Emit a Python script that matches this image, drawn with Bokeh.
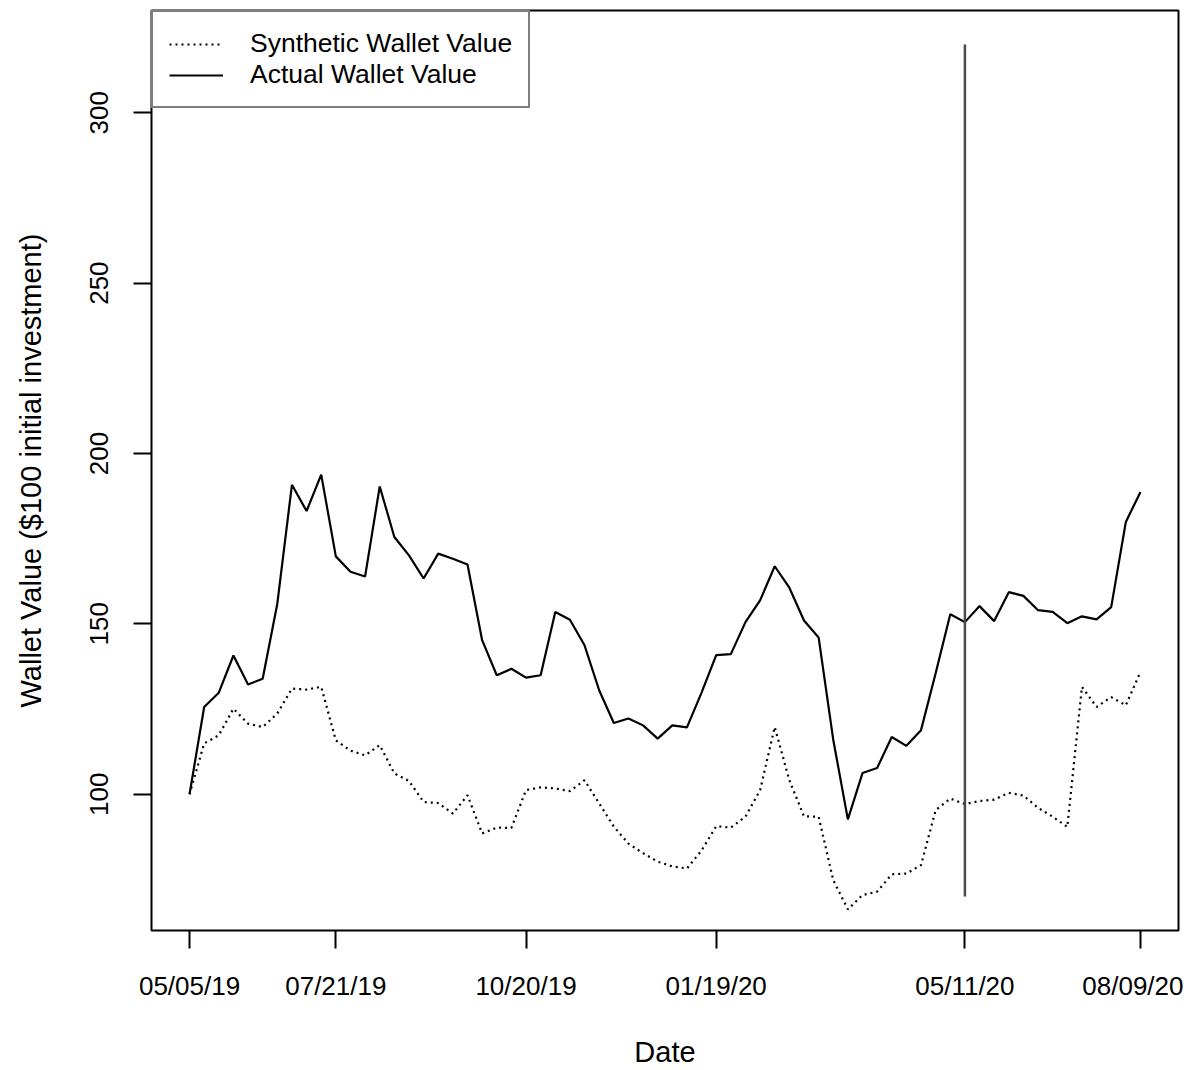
from bokeh.plotting import figure
from bokeh.models import Range1d, FixedTicker, Legend, LegendItem
from bokeh.embed import file_html
from bokeh.resources import INLINE

# ---- data (weekly observations, index 1..66) ----
week_index = list(range(1, 67))

actual_wallet = [
    100.0, 125.6, 129.8, 140.7, 132.2, 133.9, 155.9, 190.8, 183.1, 193.8,
    169.8, 165.3, 163.9, 190.3, 175.5, 170.1, 163.3, 170.6, 169.1, 167.4,
    145.2, 134.9, 136.8, 134.2, 134.9, 153.5, 151.2, 143.7, 130.5, 120.9,
    122.2, 120.2, 116.3, 120.2, 119.6, 129.8, 140.8, 141.1, 150.5, 156.9,
    166.9, 160.6, 151.0, 146.0, 116.0, 92.6, 106.2, 107.7, 116.8, 114.2,
    118.8, 135.5, 152.8, 150.5, 155.2, 150.8, 159.3, 158.2, 154.0, 153.5,
    150.2, 152.2, 151.3, 154.9, 179.9, 188.7,
]

synthetic_wallet = [
    100.0, 114.9, 117.3, 125.1, 120.7, 119.7, 123.7, 131.0, 130.7, 131.5,
    115.8, 112.8, 111.4, 114.4, 106.1, 103.9, 97.7, 97.4, 94.3, 99.7,
    88.5, 90.2, 90.1, 101.2, 102.0, 101.7, 100.9, 104.1, 97.3, 90.5,
    85.5, 82.7, 80.2, 78.8, 78.2, 83.5, 90.6, 90.2, 93.4, 101.2,
    119.7, 104.1, 93.5, 93.4, 74.8, 66.2, 70.4, 71.4, 76.5, 76.7,
    79.2, 95.3, 98.7, 97.1, 98.0, 98.4, 100.4, 99.6, 96.0, 93.4,
    90.4, 131.5, 125.6, 128.5, 126.1, 135.9,
]

x_tick_index = [1, 11, 24, 37, 54, 66]
x_tick_labels = ["05/05/19", "07/21/19", "10/20/19", "01/19/20", "05/11/20", "08/09/20"]
y_ticks = [100, 150, 200, 250, 300]

vline_index = 54          # 05/11/20
vline_range = [70, 320]   # vertical marker extent

FONT = "Liberation Sans"

# ---- figure ----
p = figure(
    width=1183, height=1070,
    output_backend="svg", toolbar_location=None,
    x_range=Range1d(-1.6, 68.6), y_range=Range1d(60, 330),
    min_border_left=151, min_border_right=5,
    min_border_top=10, min_border_bottom=140,
)
p.xgrid.visible = False
p.ygrid.visible = False
p.outline_line_color = "black"
p.outline_line_width = 2
p.background_fill_color = "white"
p.border_fill_color = "white"

r_syn = p.line(week_index, synthetic_wallet, line_color="black",
               line_width=2.2, line_dash="2 4")
r_act = p.line(week_index, actual_wallet, line_color="black", line_width=2.2)
p.segment(x0=[vline_index], y0=[vline_range[0]], x1=[vline_index],
          y1=[vline_range[1]], line_color="#4a4a4a", line_width=2.5)

# ---- axes ----
xa = p.xaxis[0]
xa.ticker = FixedTicker(ticks=x_tick_index)
xa.major_label_overrides = {i: l for i, l in zip(x_tick_index, x_tick_labels)}
ya = p.yaxis[0]
ya.ticker = FixedTicker(ticks=y_ticks)
ya.major_label_orientation = "vertical"

for ax in (xa, ya):
    ax.axis_line_color = None
    ax.major_tick_out = 18
    ax.major_tick_in = 0
    ax.minor_tick_out = 0
    ax.minor_tick_in = 0
    ax.major_tick_line_color = "black"
    ax.major_tick_line_width = 2
    ax.major_label_text_font = FONT
    ax.major_label_text_font_size = "26px"
    ax.major_label_text_color = "black"
    ax.axis_label_text_font = FONT
    ax.axis_label_text_font_size = "29px"
    ax.axis_label_text_font_style = "normal"
    ax.axis_label_text_color = "black"

xa.axis_label = "Date"
xa.major_label_standoff = 22
xa.axis_label_standoff = 32
ya.axis_label = "Wallet Value ($100 initial investment)"
ya.major_label_standoff = 25
ya.axis_label_standoff = 41

# ---- legend ----
legend = Legend(
    items=[
        LegendItem(label="Synthetic Wallet Value", renderers=[r_syn]),
        LegendItem(label="Actual Wallet Value", renderers=[r_act]),
    ],
    location="top_left", margin=0, padding=16,
    glyph_width=54, glyph_height=28, label_height=28,
    label_standoff=27, spacing=0,
    border_line_color="black", border_line_width=2,
    background_fill_color="white", background_fill_alpha=1.0,
    label_text_font=FONT, label_text_font_size="26.5px",
    label_text_color="black",
)
p.add_layout(legend)

open("out.html", "w").write(file_html(p, INLINE))
